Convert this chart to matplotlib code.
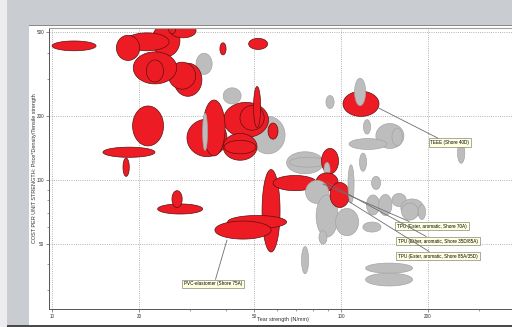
import numpy as np
import matplotlib.pyplot as plt
from matplotlib.patches import Rectangle

plt.rcParams['font.family'] = ['Liberation Sans', 'DejaVu Sans']

# Ellipses: tear strength range (N/mm), cost per unit strength range, kind (r = selected, g = other)
# listed in drawing order
tear_lo = [31.5, 10.0, 22.2, 25.6, 25.3, 17.9, 16.7, 26.4, 25.3, 19.1, 21.2,
           19.0, 17.6, 15.0, 23.2, 26.0, 39.1, 38.1, 47.9, 88.7,
           48.8, 39.2, 29.3, 33.3, 33.2, 44.7, 49.8, 39.1, 39.4, 55.9,
           64.8, 66.3, 85.6, 87.3,
           53.3, 40.5, 36.6,
           58.2, 82.0, 75.4, 82.0, 91.6, 83.9, 95.7, 105.7,
           101.6, 111.4,
           119.6, 132, 150, 106.6, 115.9, 127.5, 122.5, 135, 119, 150, 161, 162, 185,
           121.6, 121.6, 73.0, 253]
tear_hi = [35.8, 14.2, 27.7, 31.5, 26.8, 25.4, 20.1, 33.0, 31.4, 27.0, 24.3,
           24.3, 18.5, 22.7, 33.2, 28.2, 45.1, 40.0, 55.7, 94.6,
           64.0, 56.1, 40.3, 39.7, 34.5, 54.2, 52.7, 51.2, 50.8, 60.5,
           87.0, 89.1, 98.0, 91.6,
           61.5, 64.8, 57.3,
           82.6, 97.6, 90.5, 97.6, 107, 89.4, 115, 110.9,
           135.3, 121.6,
           126.5, 165, 163, 144, 122.5, 137, 136, 150, 137.5, 168, 193, 185, 196,
           176.8, 176.8, 77.2, 268]
cost_lo = [316, 409, 383, 471, 492, 409, 368, 249, 269, 285, 291,
           145, 104, 128, 69, 74, 229, 391, 415, 218,
           133, 159, 129, 130, 138, 172, 177, 124, 133, 156,
           107, 115, 107, 103,
           45.6, 58.9, 52.5,
           89, 88.7, 77.4, 53.7, 74.1, 49.7, 54.5, 77.8,
           200, 225,
           165, 141, 145, 139.5, 110, 90.2, 68.3, 67.9, 56.7, 74.9, 66.8, 64.6, 65.0,
           36.2, 31.5, 36.0, 120]
cost_hi = [398, 455, 549, 549, 549, 497, 484, 357, 361, 404, 370,
           224, 127, 143, 77, 89, 273, 446, 468, 251,
           200, 233, 194, 239, 207, 225, 277, 166, 154, 186,
           136, 128, 141, 121,
           112, 67.9, 63.9,
           105, 108, 99.5, 84.9, 97.3, 57.6, 73.3, 118,
           263, 303,
           193, 185, 176, 157, 134, 104, 84.9, 85.4, 63.2, 86.3, 81.3, 77.8, 76.5,
           40.4, 36.2, 48.4, 150]
kind = ['g', 'r', 'r', 'r', 'r', 'r', 'r', 'r', 'r', 'r', 'r',
        'r', 'r', 'r', 'r', 'r', 'g', 'r', 'r', 'g',
        'g', 'r', 'r', 'r', 'g', 'r', 'r', 'r', 'r', 'r',
        'g', 'g', 'r', 'g',
        'r', 'r', 'r',
        'r', 'r', 'g', 'g', 'r', 'g', 'g', 'g',
        'r', 'g',
        'g', 'g', 'g', 'g', 'g', 'g', 'g', 'g', 'g', 'g', 'g', 'g', 'g',
        'g', 'g', 'g', 'g']

# labelled materials: text, point on bubble, label position
labels = ['TEEE (Shore 40D)', 'PVC-elastomer (Shore 75A)',
          'TPU (Ester, aromatic, Shore 70A)', 'TPU (Ether, aromatic, Shore 35D/85A)',
          'TPU (Ester, aromatic, Shore 85A/35D)']
label_from = [(135, 219), (40.3, 52), (86.6, 95.7), (88.7, 97.8), (105.7, 79.5)]
label_at = [(238, 150), (36.1, 32.2), (206.5, 60.5), (216.6, 51.4), (216.6, 43.6)]
label_rel = [(0.3, 1), (0.53, 1), (0.24, 1), (0.4, 1), (0.43, 1)]

fig = plt.figure(figsize=(5.12, 3.27), dpi=100, facecolor='#c9ccd0')

def frect(x0, y0, x1, y1, color):
    fig.add_artist(Rectangle((x0 / 512, 1 - y1 / 327), (x1 - x0) / 512, (y1 - y0) / 327,
                             transform=fig.transFigure, facecolor=color, edgecolor='none', zorder=-5))

frect(0, 0, 7, 327, '#ececed')
frect(29, 25, 512, 325, 'white')
frect(29, 25, 512, 26, '#8a8a8a')
frect(7, 325, 512, 327, '#4a4a4a')

ax = fig.add_axes([49 / 512, 18 / 327, 491 / 512, 281.5 / 327])
ax.set_facecolor('none')
ax.set_xscale('log')
ax.set_yscale('log')
ax.set_xlim(9.76, 488)
ax.set_ylim(24.5, 527)

t = np.linspace(0, 2 * np.pi, 120)
for i in range(len(kind)):
    lx0, lx1 = np.log10(tear_lo[i]), np.log10(tear_hi[i])
    ly0, ly1 = np.log10(cost_lo[i]), np.log10(cost_hi[i])
    xs = 10 ** ((lx0 + lx1) / 2 + (lx1 - lx0) / 2 * np.cos(t))
    ys = 10 ** ((ly0 + ly1) / 2 + (ly1 - ly0) / 2 * np.sin(t))
    if kind[i] == 'r':
        ax.fill(xs, ys, facecolor='#ed1c24', edgecolor='#5c1010', linewidth=0.5, zorder=2)
    else:
        ax.fill(xs, ys, facecolor='#bdbdbd', edgecolor='#a5a5a5', linewidth=0.5, zorder=2)

for txt, p, q, rp in zip(labels, label_from, label_at, label_rel):
    ax.annotate(txt, xy=p, xytext=q, fontsize=3.3, ha='center', va='center', zorder=5,
                bbox=dict(boxstyle='square,pad=0.4', facecolor='#ffffe1', edgecolor='#6a6a5a', linewidth=0.4),
                arrowprops=dict(arrowstyle='-', color='#6e6e6e', linewidth=0.6, relpos=rp,
                                shrinkA=0, shrinkB=0))

ax.set_xticks([10, 20, 50, 100, 200])
ax.set_xticklabels(['10', '20', '50', '100', '200'])
ax.set_yticks([50, 100, 200, 500])
ax.set_yticklabels(['50', '100', '200', '500'])
ax.tick_params(which='major', labelsize=3.3, length=2, width=0.4, pad=1.5, colors='#333333')
ax.tick_params(which='minor', length=1.5, width=0.4, colors='#555555')
ax.xaxis.set_minor_formatter(plt.NullFormatter())
ax.yaxis.set_minor_formatter(plt.NullFormatter())
ax.grid(True, which='major', linestyle=':', color='#9a9a9a', linewidth=0.6)
ax.set_axisbelow(True)
for s in ['left', 'bottom']:
    ax.spines[s].set_color('#555555')
    ax.spines[s].set_linewidth(0.7)
ax.spines['top'].set_color('#a0a0a0')
ax.spines['top'].set_linewidth(0.8)
ax.spines['right'].set_visible(False)

ax.set_xlabel('Tear strength (N/mm)', fontsize=4, color='#333333', labelpad=1)
ax.xaxis.set_label_coords((283 - 49) / 491, -8 / 281.5)
ax.set_ylabel('COST PER UNIT STRENGTH: Price*Density/Tensile strength', fontsize=4, color='#333333')
ax.yaxis.set_label_coords(-12 / 491, 0.5)

fig.savefig('out.png', dpi=100)
